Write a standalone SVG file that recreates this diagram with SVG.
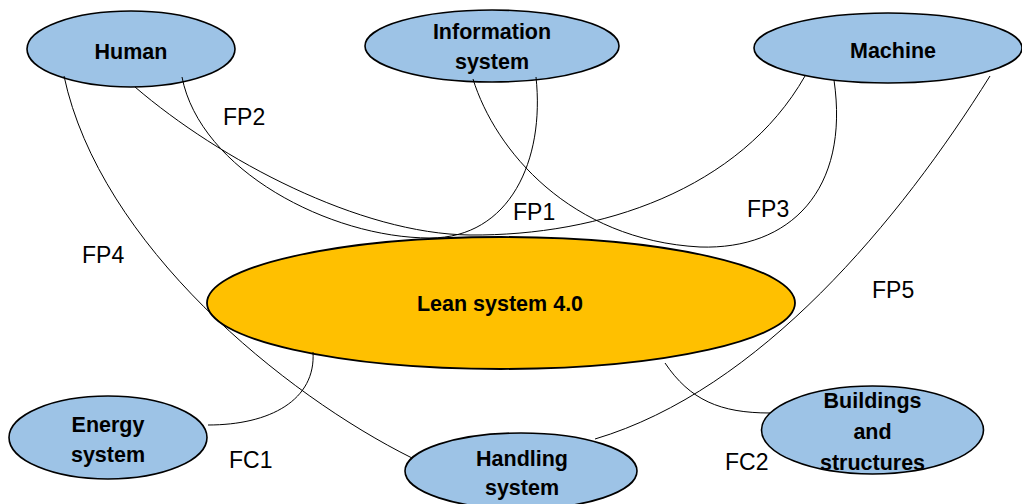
<svg xmlns="http://www.w3.org/2000/svg" width="1022" height="504" viewBox="0 0 1022 504">
<style>
.node{fill:#9DC3E6;stroke:#000;stroke-width:1.6}
.core{fill:#FFC000;stroke:#000;stroke-width:1.8}
.nt{font-family:"Liberation Sans",Arial,sans-serif;font-weight:bold;font-size:21.5px;fill:#000;text-anchor:middle}
.lbl{font-family:"Liberation Sans",Arial,sans-serif;font-size:23px;fill:#000}
.conn path{fill:none;stroke:#000;stroke-width:1}
</style>
<rect width="1022" height="504" fill="#fff"/>
<g id="lean"><ellipse class="core" cx="501" cy="303" rx="294" ry="66"/><text class="nt" x="500" y="311">Lean system 4.0</text></g>
<g id="human"><ellipse class="node" cx="131" cy="49" rx="104" ry="38"/><text class="nt" x="131" y="59">Human</text></g>
<g id="information"><ellipse class="node" cx="492" cy="46" rx="127" ry="36"/><text class="nt" x="492" y="39">Information</text><text class="nt" x="492" y="69">system</text></g>
<g id="machine"><ellipse class="node" cx="888" cy="48" rx="134" ry="35"/><text class="nt" x="893" y="58">Machine</text></g>
<g id="energy"><ellipse class="node" cx="108" cy="437.5" rx="99" ry="41.5"/><text class="nt" x="108" y="432">Energy</text><text class="nt" x="108" y="462">system</text></g>
<g id="handling"><ellipse class="node" cx="521" cy="471" rx="116" ry="38"/><text class="nt" x="522" y="466">Handling</text><text class="nt" x="522" y="495">system</text></g>
<g id="buildings"><ellipse class="node" cx="872.5" cy="430" rx="111" ry="44"/><text class="nt" x="872.5" y="408">Buildings</text><text class="nt" x="872.5" y="439">and</text><text class="nt" x="872.5" y="470">structures</text></g>
<g class="conn" id="connectors">
<path d="M182 77 C200 170 330 238 430 238 C510 238 545 160 536 77"/>
<path d="M135 87 C220 160 360 234 470 235 C600 236 740 190 805 76"/>
<path d="M473 79 C495 150 570 240 700 247 C790 250 850 190 834 80"/>
<path d="M64 76 C100 245 285 395 412 458"/>
<path d="M990 76 C900 220 760 390 595 439"/>
<path d="M313 352 C316 400 270 425 208 425"/>
<path d="M665 363 C690 400 720 413 770 413"/>
</g>
<g id="labels">
<text class="lbl" x="223" y="125">FP2</text>
<text class="lbl" x="513" y="220">FP1</text>
<text class="lbl" x="747" y="217">FP3</text>
<text class="lbl" x="82" y="263">FP4</text>
<text class="lbl" x="872" y="298">FP5</text>
<text class="lbl" x="229" y="468">FC1</text>
<text class="lbl" x="725" y="470">FC2</text>
</g>
</svg>
